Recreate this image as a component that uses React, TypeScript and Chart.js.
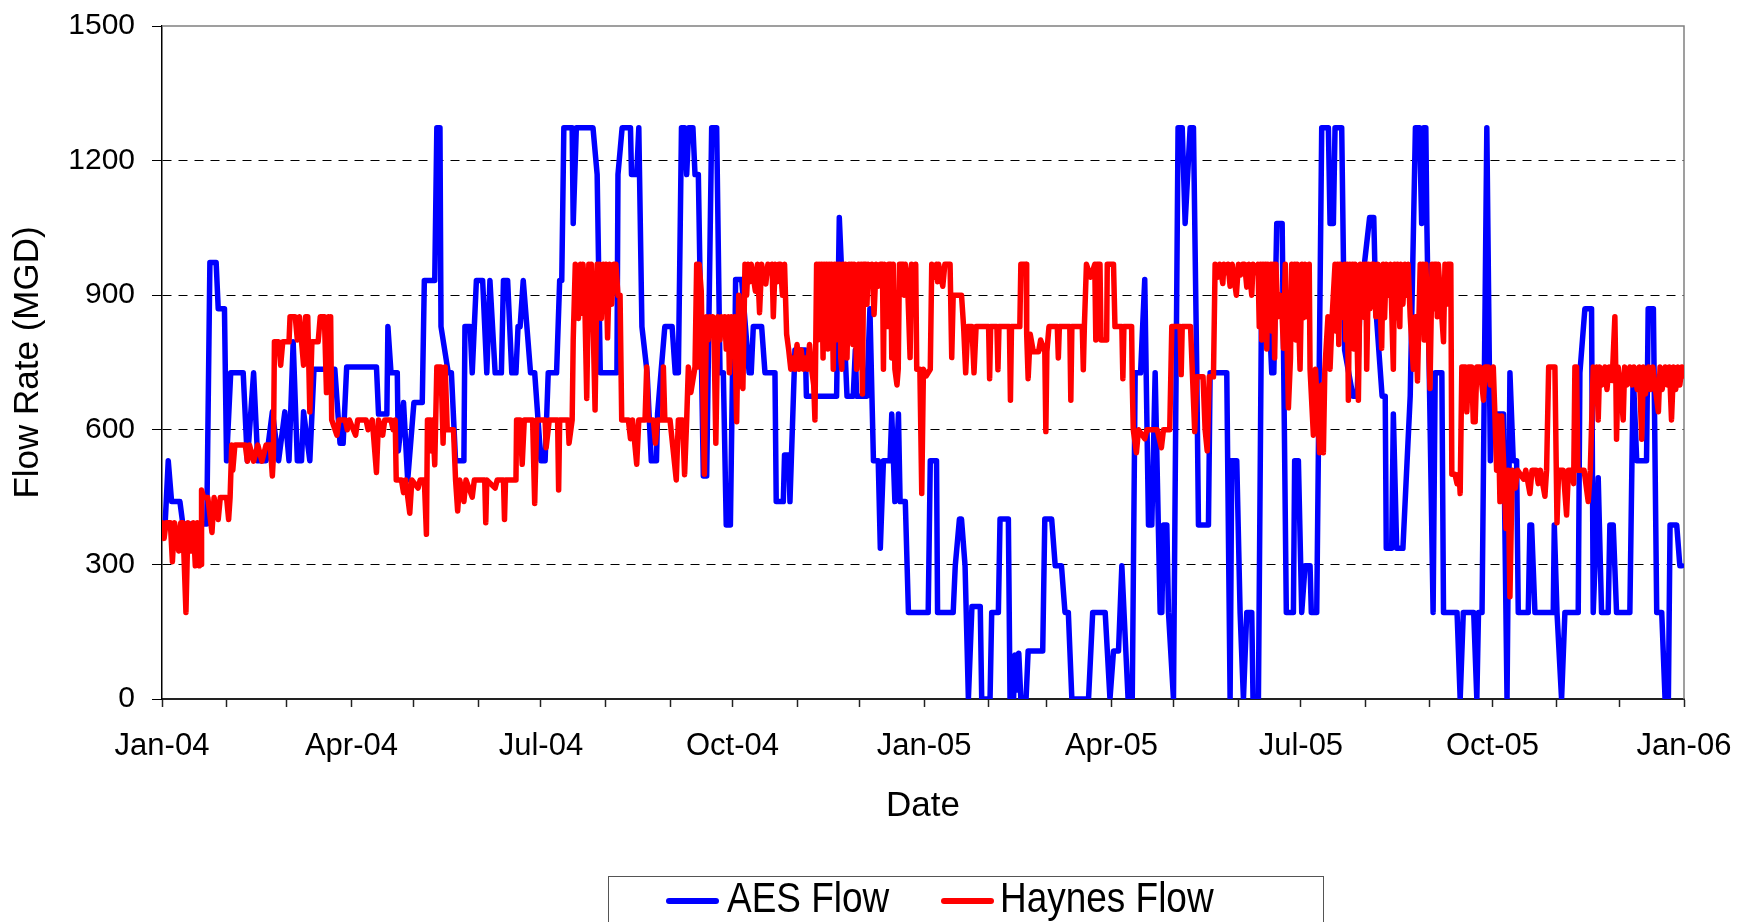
import React, { useEffect, useRef } from "react";
import { Chart, registerables } from "chart.js";

Chart.register(...registerables);

// Day offsets from 1 Jan 2004 for each month start (Jan-04 .. Jan-06)
const monthStarts = [0, 31, 60, 91, 121, 152, 182, 213, 244, 274, 305, 335, 366, 397, 425, 456, 486, 517, 547, 578, 609, 639, 670, 700, 731];
const monthLabels = ["Jan-04", "", "", "Apr-04", "", "", "Jul-04", "", "", "Oct-04", "", "", "Jan-05", "", "", "Apr-05", "", "", "Jul-05", "", "", "Oct-05", "", "", "Jan-06"];
const yTicks = [0, 300, 600, 900, 1200, 1500];

// [day offset, MGD]
const aesFlow: [number, number][] = [
  [0, 390], [1.5, 390], [3, 531], [4.6, 440], [8.6, 440], [10, 390], [21.5, 390], [23, 973], [26, 973], [27, 870], [30, 870],
  [31, 531], [33, 727], [39, 727], [41, 531], [44, 727], [46, 531], [50, 531], [53, 640], [56, 531], [59, 640], [61, 531],
  [63, 796], [65, 531], [67, 531], [68, 640], [71, 531], [73, 735], [83, 735], [85.5, 570], [87, 570], [88.7, 740], [103, 740],
  [104, 635], [108, 635], [108.5, 830], [110, 727], [113, 727], [113.5, 553], [116, 661], [118, 488], [121, 661], [125, 661],
  [126, 933], [131, 933], [132, 1273], [133.5, 1273], [134, 830], [137.5, 727], [139, 727], [141, 531], [145, 531], [145.5, 830],
  [148, 830], [149, 727], [151, 933], [154, 933], [156, 727], [157.5, 933], [160, 727], [163, 727], [164, 933], [166, 933],
  [168, 727], [170, 727], [171, 830], [172, 830], [173.5, 933], [177, 727], [179, 727], [182, 531], [184, 531], [185.5, 727],
  [189.5, 727], [191, 933], [192, 933], [193, 1273], [197, 1273], [197.5, 1060], [199, 1273], [207, 1273], [209, 1169],
  [210.5, 727], [218.5, 727], [219, 1169], [221, 1273], [225, 1273], [225.5, 1169], [228, 1169], [229, 1273], [230.5, 830],
  [233, 727], [235, 531], [237.5, 531], [238, 635], [241.5, 830], [245, 830], [246.5, 727], [248, 727], [249.5, 1273],
  [251, 1273], [252, 1169], [253, 1273], [255, 1273], [256, 1169], [257.6, 1169], [260, 497], [261.6, 497], [264, 1273],
  [266.4, 1273], [268, 727], [269.6, 727], [271, 388], [273, 388], [274, 727], [275, 727], [275.5, 935], [278.4, 935],
  [282, 727], [283, 727], [284, 830], [288, 830], [289.6, 727], [294.4, 727], [295, 440], [298.4, 440], [299, 544], [301, 544],
  [301.6, 440], [304, 778], [309, 778], [309.5, 675], [324, 675], [325.3, 1073], [329, 675], [332, 675], [333, 778],
  [333.6, 675], [338.5, 675], [340, 870], [341.7, 531], [344, 531], [345, 336], [346.5, 531], [349.7, 531], [350.5, 635],
  [352, 440], [353.7, 635], [354.5, 440], [357, 440], [358.5, 193], [368, 193], [369, 531], [372, 531], [372.5, 193],
  [380, 193], [381, 297], [383, 401], [384, 401], [385.7, 297], [387.3, 0], [389, 206], [393, 206], [393.7, 0], [397.7, 0],
  [398.5, 193], [401.7, 193], [402.5, 401], [406.5, 401], [407.3, 0], [409, 0], [409.7, 98], [410.5, 20], [411.5, 102],
  [412.5, 0], [415, 0], [416, 107], [423, 107], [424, 401], [427.3, 401], [429, 297], [432, 297], [433.7, 193], [435.3, 193],
  [437, 0], [445, 0], [447, 193], [453, 193], [455.3, 0], [457, 107], [459.4, 107], [461, 297], [464, 0], [466, 0],
  [467.4, 727], [470, 727], [472, 935], [473.8, 388], [475.4, 388], [477, 727], [479.4, 193], [480.2, 193], [481, 388],
  [482.6, 388], [483.4, 193], [485.8, 0], [488, 1273], [490, 1273], [491.4, 1060], [493.8, 1273], [495.4, 1273], [497, 727],
  [497.8, 388], [502.6, 388], [503.4, 727], [511.4, 727], [513, 0], [513.8, 531], [516.2, 531], [517.8, 193], [519.4, 0],
  [521, 193], [523.4, 193], [524, 0], [526.6, 0], [528, 830], [529, 935], [530, 830], [532, 830], [533, 727], [534, 727],
  [535.4, 1060], [538, 1060], [540, 193], [543.4, 193], [544, 531], [545.8, 531], [547.4, 193], [549, 297], [551.4, 297],
  [552, 193], [554.6, 193], [557, 1273], [560.2, 1273], [561, 1060], [562.6, 1060], [563.4, 1273], [566.6, 1273], [568, 778],
  [572, 675], [574, 675], [575.4, 883], [580, 1073], [582, 1073], [583, 870], [586, 675], [587.5, 675], [588, 336],
  [590.6, 336], [591.4, 635], [593, 336], [596, 336], [599.5, 675], [602, 1273], [604, 1273], [605, 1060], [606, 1273],
  [607, 1273], [607.5, 1060], [610.5, 193], [611.5, 727], [614.7, 727], [615.5, 193], [622, 193], [623.5, 0], [625, 193],
  [630, 193], [631.5, 0], [632.3, 193], [634, 193], [636.3, 1273], [638, 531], [638.7, 635], [644.3, 635], [646, 0],
  [647.4, 727], [649, 531], [650.6, 531], [651.4, 193], [656.2, 193], [657, 388], [657.8, 388], [659.4, 193], [668.2, 193],
  [668.7, 388], [670, 193], [672.2, 0], [673.8, 193], [680.2, 193], [681, 727], [683.4, 870], [686.6, 870], [687.4, 193],
  [689.8, 493], [691.4, 193], [694.6, 193], [695.4, 388], [697, 388], [698.6, 193], [705, 193], [706.6, 727], [708.3, 531],
  [713, 531], [713.8, 870], [716.3, 870], [717.9, 193], [720.3, 193], [721.9, 0], [723.5, 0], [724.3, 388], [727.5, 388],
  [729, 297], [730, 297],
];

const haynesFlow: [number, number][] = [
  [0, 393], [1, 358], [2, 393], [4, 393], [5, 306], [6, 393], [8, 330], [9, 393], [10, 393], [11.5, 193], [12.5, 393],
  [14, 330], [15, 393], [16, 297], [17, 393], [18, 297], [18.8, 300], [19, 466], [20, 449], [22, 449], [24, 371], [25, 449],
  [27, 400], [28, 449], [31, 449], [32, 400], [32.7, 449], [33.5, 566], [34, 510], [35, 566], [40, 566], [41, 530], [42, 566],
  [44, 530], [46, 566], [48, 530], [50, 566], [52, 566], [53, 497], [53.5, 540], [54, 796], [56, 796], [57, 744], [58, 796],
  [61, 796], [61.5, 852], [64, 852], [65, 800], [66, 852], [68, 744], [69, 852], [70, 852], [71, 640], [72, 796], [75, 796],
  [76, 852], [78, 852], [79, 683], [80, 852], [80.5, 720], [81, 852], [81.5, 622], [84, 588], [85, 622], [88, 622], [89, 600],
  [90, 622], [93, 588], [94, 622], [98, 622], [99, 600], [101, 622], [103, 505], [104, 622], [106, 588], [107, 622], [110, 622],
  [111, 600], [112, 622], [112.5, 488], [115, 488], [116, 460], [117, 488], [119, 414], [120, 488], [123, 470], [124, 488],
  [126, 488], [127, 367], [127.5, 622], [129, 622], [129.5, 553], [130, 622], [131, 522], [132, 740], [134, 740], [135, 570],
  [136, 740], [137, 600], [140, 600], [141, 488], [142, 419], [143, 488], [145, 440], [146, 488], [149, 450], [150, 488],
  [155, 488], [155.5, 393], [156, 488], [160, 470], [161, 488], [164, 488], [164.5, 400], [165, 488], [170, 488], [170.3, 622],
  [172, 622], [173, 523], [174, 622], [178, 622], [179, 436], [180, 622], [184, 622], [184.5, 560], [186, 622], [190, 622],
  [190.5, 466], [191, 622], [195, 622], [195.5, 570], [197, 622], [197.5, 800], [198.5, 969], [199.2, 880], [200, 848],
  [201, 969], [201.6, 860], [202.2, 969], [203, 900], [204, 670], [205, 969], [205.6, 880], [206.2, 969], [207, 848],
  [208, 644], [209, 969], [209.6, 870], [210.2, 969], [211, 848], [212, 969], [212.6, 900], [213.2, 969], [214, 805],
  [215, 969], [216, 880], [217, 969], [218, 969], [219, 900], [220, 900], [220.8, 622], [224, 622], [225, 580], [226, 622],
  [228, 523], [229, 622], [232, 622], [232.8, 740], [233.5, 622], [236, 622], [237, 570], [238, 622], [240.5, 622],
  [240.8, 740], [241.5, 622], [244, 622], [247, 488], [248, 622], [250, 622], [251, 500], [252, 622], [252.8, 740], [254, 683],
  [256, 740], [256.8, 969], [257.5, 740], [258, 969], [259, 909], [260, 622], [260.5, 501], [261.5, 852], [262.3, 800],
  [263, 852], [263.6, 822], [264.5, 852], [265.2, 790], [266, 570], [267, 852], [268, 800], [268.7, 852], [269.5, 822],
  [270.3, 852], [271, 780], [272, 852], [272.5, 727], [273.5, 852], [274.3, 810], [275, 852], [276, 618], [277, 900],
  [278, 709], [279, 692], [280, 969], [280.8, 900], [281.5, 969], [282.3, 930], [283, 969], [284, 940], [285, 909], [286, 969],
  [287, 861], [288, 969], [289, 940], [290, 925], [291, 969], [292, 950], [293, 969], [293.6, 852], [294.5, 969], [295.5, 930],
  [296.3, 969], [297, 969], [298, 900], [299, 969], [300, 813], [301, 778], [302, 735], [303, 760], [304, 735], [305, 790],
  [306, 735], [307, 778], [308, 735], [309, 760], [310, 735], [311, 790], [312, 735], [313, 700], [313.6, 622], [314.4, 969],
  [315, 800], [315.6, 969], [316.2, 850], [316.8, 969], [317.5, 760], [318, 969], [318.6, 830], [319.2, 969], [319.8, 780],
  [320.4, 969], [321, 850], [321.6, 969], [322.4, 735], [323, 969], [323.6, 800], [324.2, 969], [324.8, 840], [325.4, 969],
  [326, 760], [326.5, 735], [327, 969], [327.6, 820], [328.2, 969], [329, 760], [330, 969], [330.6, 830], [331.2, 969],
  [331.8, 790], [332.4, 969], [333, 850], [333.6, 735], [334.5, 969], [335.2, 800], [335.8, 969], [336.4, 680], [337, 969],
  [338, 969], [338.6, 880], [339.2, 969], [340, 930], [341, 969], [342, 857], [343, 969], [344, 920], [345, 969], [346, 969],
  [346.5, 735], [347, 969], [348, 900], [348.5, 830], [349, 969], [350, 969], [350.5, 760], [351.2, 969], [352, 735],
  [353, 700], [353.6, 735], [354.2, 969], [356, 969], [356.5, 900], [357, 969], [358, 940], [359.3, 761], [360, 969], [361, 940],
  [362, 969], [362.5, 735], [364, 735], [364.9, 458], [365.7, 735], [367, 720], [369, 735], [369.7, 969], [371, 940],
  [372, 969], [372.5, 930], [373, 969], [375, 920], [376, 969], [378.5, 969], [379.3, 761], [380, 900], [384, 900],
  [385, 830], [386, 727], [387, 830], [389, 830], [390, 727], [391, 830], [397, 830], [397.5, 714], [398, 830], [401, 830],
  [401.5, 734], [402, 830], [407, 830], [407.5, 666], [408, 830], [412, 830], [412.5, 969], [415, 969], [415.3, 813],
  [416, 714], [417, 813], [418.5, 774], [421, 774], [422, 800], [424, 774], [424.5, 596], [425, 774], [426, 830], [430, 830],
  [430.5, 760], [431, 830], [436, 830], [436.5, 666], [437, 830], [442, 830], [442.5, 734], [443, 830], [444, 969], [446, 940],
  [448, 969], [448.5, 800], [449, 969], [450.5, 969], [451, 800], [453.7, 800], [454, 969], [457, 969], [457.7, 830], [461, 830],
  [461.5, 714], [462, 830], [465.7, 830], [466, 705], [466.5, 600], [468, 549], [469, 600], [472, 580], [473, 600], [478, 600],
  [480, 560], [481, 600], [484, 600], [485, 830], [489, 830], [489.5, 723], [490, 830], [494, 830], [496, 596], [497, 718],
  [500, 718], [501, 600], [502, 553], [503, 718], [505, 718], [505.8, 969], [507, 940], [508, 969], [509.5, 926], [510, 969],
  [511, 950], [512, 969], [513, 920], [514, 969], [516, 900], [517, 969], [518, 945], [519, 969], [520, 969], [521, 918],
  [522, 969], [523.4, 900], [524, 969], [525, 950], [526.4, 969], [527, 830], [527.6, 969], [528.2, 800], [528.8, 969],
  [529.4, 850], [530, 969], [530.6, 780], [531.2, 969], [532, 905], [532.6, 969], [533.2, 820], [533.8, 969], [534.4, 760],
  [535, 969], [536, 852], [537, 900], [538, 852], [538.6, 782], [539.5, 969], [540.2, 830], [541, 649], [542, 760],
  [542.6, 969], [543.3, 850], [544, 969], [544.6, 800], [545.2, 969], [546, 830], [546.6, 735], [547.5, 969], [548.2, 850],
  [549, 969], [550, 852], [551, 969], [551.4, 735], [553, 588], [554, 735], [556, 549], [557, 700], [557.8, 549], [558.5, 735],
  [560, 852], [561, 735], [562, 852], [563.4, 969], [564, 820], [564.6, 969], [565.2, 790], [565.8, 969], [566.4, 850],
  [567, 900], [568, 969], [568.6, 800], [569.2, 969], [569.8, 666], [570.5, 969], [571.2, 830], [571.8, 969], [572.4, 780],
  [573, 969], [573.8, 840], [574.6, 666], [575.5, 969], [576.2, 900], [577, 969], [577.6, 850], [578.2, 969], [578.6, 735],
  [579.5, 969], [580.2, 870], [581, 969], [582, 969], [583, 852], [584, 969], [585, 880], [585.8, 782], [586.5, 969],
  [587.2, 850], [588, 969], [589, 900], [590, 969], [591.4, 735], [592, 969], [592.8, 850], [593.4, 969], [594.5, 830],
  [595, 969], [596, 880], [597, 969], [597.5, 900], [598.5, 969], [599.5, 852], [601, 735], [602, 852], [603, 709],
  [604.3, 969], [605, 850], [605.6, 969], [606.2, 800], [607, 969], [608, 852], [609, 692], [610, 969], [610.6, 870],
  [611.2, 969], [612, 969], [612.5, 852], [613, 969], [614, 900], [615.5, 796], [616.2, 969], [617, 880], [617.6, 969],
  [619, 969], [619.5, 501], [621, 501], [622, 480], [623, 501], [623.5, 458], [624.3, 740], [626, 740], [626.7, 640],
  [627.5, 740], [629, 740], [629.8, 618], [630.7, 618], [631.5, 740], [633, 740], [634.7, 666], [635.5, 740], [637, 740],
  [638, 700], [639.4, 740], [640.2, 631], [641, 510], [641.8, 631], [642.6, 440], [643.4, 631], [644.5, 510], [645.5, 380],
  [646.5, 510], [647.4, 228], [648.5, 510], [650, 470], [651, 510], [654, 490], [655, 510], [657, 458], [658, 510], [660, 510],
  [661, 480], [662, 510], [664.2, 452], [665, 510], [666, 740], [669, 740], [670, 393], [670.8, 510], [673, 510], [674.6, 410],
  [675.5, 510], [677, 510], [678, 480], [678.6, 740], [679.4, 740], [680, 510], [683, 510], [685, 440], [686, 510],
  [687.4, 740], [688.2, 700], [689, 740], [689.8, 622], [690.5, 740], [691.5, 700], [693, 740], [694, 690], [695, 740],
  [696.5, 710], [697.8, 852], [698.2, 740], [698.6, 579], [699.4, 740], [700.5, 700], [701.8, 622], [702.5, 740], [703.5, 700],
  [705, 740], [706, 700], [707, 740], [708.5, 690], [709.5, 740], [710.7, 579], [711.5, 740], [712.5, 680], [714, 740],
  [715, 690], [716, 740], [717, 700], [718.7, 640], [719.5, 740], [720.5, 690], [722, 740], [723, 700], [724, 740], [725, 622],
  [726, 740], [727, 690], [728, 740], [729, 700], [730, 740], [731, 720],
];

const FONT = "'Liberation Sans', Arial, Helvetica, sans-serif";
const W = 1738;
const H = 922;

const framePlugin = {
  id: "frame",
  beforeDatasetsDraw(chart: any) {
    const { ctx, chartArea } = chart;
    const { left, right, top, bottom } = chartArea;
    ctx.save();
    ctx.strokeStyle = "#808080";
    ctx.lineWidth = 1.5;
    ctx.beginPath();
    ctx.moveTo(left, top);
    ctx.lineTo(right, top);
    ctx.lineTo(right, bottom);
    ctx.stroke();
    ctx.restore();
  },
};

export default function App() {
  const canvasRef = useRef<HTMLCanvasElement | null>(null);

  useEffect(() => {
    document.body.style.margin = "0";
    const canvas = canvasRef.current;
    if (!canvas) return;
    const chart = new Chart(canvas, {
      type: "line",
      data: {
        datasets: [
          {
            label: "AES Flow",
            data: aesFlow.map(([x, y]) => ({ x, y })),
            borderColor: "#0000FF",
            backgroundColor: "#0000FF",
            borderWidth: 5.5,
            pointRadius: 0,
            tension: 0,
            borderJoinStyle: "round",
            borderCapStyle: "round",
            order: 2,
          },
          {
            label: "Haynes Flow",
            data: haynesFlow.map(([x, y]) => ({ x, y })),
            borderColor: "#FF0000",
            backgroundColor: "#FF0000",
            borderWidth: 5.5,
            pointRadius: 0,
            tension: 0,
            borderJoinStyle: "round",
            borderCapStyle: "round",
            order: 1,
          },
        ],
      },
      options: {
        animation: false,
        responsive: false,
        maintainAspectRatio: false,
        layout: { padding: { top: 26, right: 54, bottom: 93, left: 0 } },
        plugins: {
          legend: { display: false },
          tooltip: { enabled: false },
        },
        scales: {
          x: {
            type: "linear",
            min: 0,
            max: 731,
            afterBuildTicks: (s: any) => {
              s.ticks = monthStarts.map((v) => ({ value: v }));
            },
            afterFit: (s: any) => {
              s.height = 130;
              s.paddingLeft = 0;
              s.paddingRight = 0;
            },
            ticks: {
              autoSkip: false,
              maxRotation: 0,
              minRotation: 0,
              color: "#000",
              padding: 21,
              font: { family: FONT, size: 31 },
              callback: (_v: any, i: number) => monthLabels[i],
            },
            grid: {
              drawOnChartArea: false,
              drawTicks: true,
              tickLength: 8,
              tickColor: "#222",
              tickWidth: 1.5,
            },
            border: { display: true, color: "#222", width: 2 },
            title: {
              display: true,
              text: "Date",
              color: "#000",
              font: { family: FONT, size: 35 },
              padding: { top: 0, bottom: 2 },
            },
          },
          y: {
            type: "linear",
            min: 0,
            max: 1500,
            afterBuildTicks: (s: any) => {
              s.ticks = yTicks.map((v) => ({ value: v }));
            },
            afterFit: (s: any) => {
              s.width = 162;
              s.paddingTop = 0;
              s.paddingBottom = 0;
            },
            ticks: {
              color: "#000",
              padding: 17,
              font: { family: FONT, size: 30 },
              callback: (v: any) => String(v),
            },
            grid: {
              color: (c: any) =>
                c.tick && (c.tick.value === 0 || c.tick.value === 1500) ? "rgba(0,0,0,0)" : "#000",
              lineWidth: 1,
              drawTicks: true,
              tickLength: 10,
              tickColor: "#000",
              tickWidth: 1,
              tickBorderDash: [],
            },
            border: { display: true, color: "#000", width: 1.5, dash: [9, 7] },
            title: {
              display: true,
              text: "Flow Rate (MGD)",
              color: "#000",
              font: { family: FONT, size: 35 },
              padding: { top: 7, bottom: 0 },
            },
          },
        },
      },
      plugins: [framePlugin],
    } as any);
    return () => chart.destroy();
  }, []);

  const legendText: React.CSSProperties = {
    position: "absolute",
    top: 0,
    fontFamily: FONT,
    fontSize: 42,
    lineHeight: "42px",
    color: "#000",
    whiteSpace: "nowrap",
    transform: "scaleX(0.88)",
    transformOrigin: "left top",
  };
  const legendLine: React.CSSProperties = {
    position: "absolute",
    top: 21,
    width: 53,
    height: 6,
    borderRadius: 3,
  };

  return (
    <div style={{ position: "relative", width: W, height: H, overflow: "hidden", background: "#fff" }}>
      <canvas ref={canvasRef} width={W} height={H} style={{ position: "absolute", left: 0, top: 0, width: W, height: H }} />
      <div
        style={{
          position: "absolute",
          left: 608,
          top: 876,
          width: 716,
          height: 80,
          border: "1.5px solid #555",
          boxSizing: "border-box",
          background: "#fff",
        }}
      >
        <div style={{ ...legendLine, left: 57, background: "#0000FF" }} />
        <div style={{ ...legendText, left: 118 }}>AES Flow</div>
        <div style={{ ...legendLine, left: 332, background: "#FF0000" }} />
        <div style={{ ...legendText, left: 391 }}>Haynes Flow</div>
      </div>
    </div>
  );
}
